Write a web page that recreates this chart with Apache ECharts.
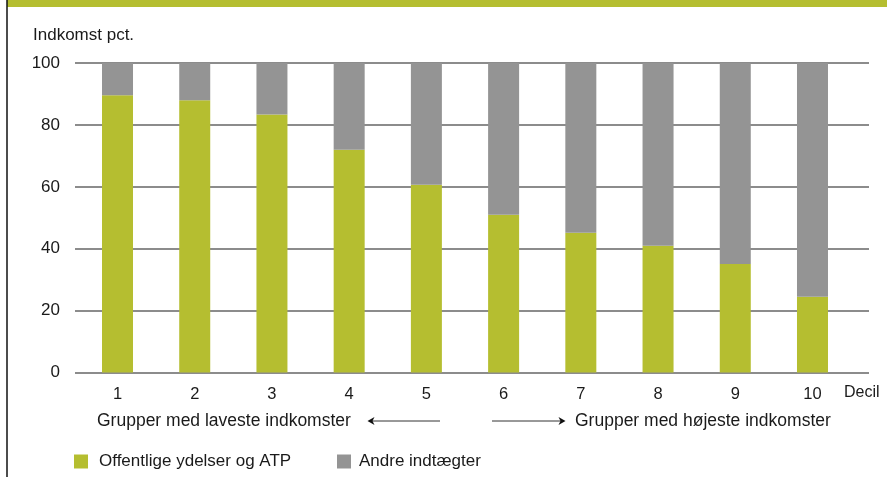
<!DOCTYPE html>
<html>
<head>
<meta charset="utf-8">
<script src="https://cdn.jsdelivr.net/npm/echarts@6/dist/echarts.min.js"></script>
<style>
html,body{margin:0;padding:0;background:#fff;}
#c{width:887px;height:477px;}
</style>
</head>
<body>
<div id="c"></div>
<script>
var deciles = ['1', '2', '3', '4', '5', '6', '7', '8', '9', '10'];
var offentlige = [89.6, 88.0, 83.4, 72.0, 60.7, 51.0, 45.2, 41.0, 35.1, 24.5];
var andre = [10.4, 12.0, 16.6, 28.0, 39.3, 49.0, 54.8, 59.0, 64.9, 75.5];
var yTicks = [0, 20, 40, 60, 80, 100];

var FONT = 'Liberation Sans, Arial, sans-serif';
var GREEN = '#b5be30';
var GRAY = '#949494';
var TXT = '#1a1a1a';

var chart = echarts.init(document.getElementById('c'), null, {renderer: 'canvas'});

var option = {
  animation: false,
  backgroundColor: '#fff',
  textStyle: {fontFamily: FONT},
  grid: [
    {left: 75, right: 18, top: 63, bottom: 104.4, containLabel: false},
    {left: 78.9, right: 35.9, top: 63, bottom: 104.4, containLabel: false}
  ],
  xAxis: [
    {
      gridIndex: 0, type: 'value', min: 0, max: 1, show: false
    },
    {
      gridIndex: 1, type: 'category', data: deciles,
      axisLine: {show: false},
      axisTick: {show: false},
      splitLine: {show: false},
      axisLabel: {fontSize: 16.5, fontFamily: FONT, color: TXT, margin: 13}
    }
  ],
  yAxis: [
    {
      gridIndex: 0, type: 'value',
      min: 0, max: 100, interval: 20,
      axisLine: {show: false},
      axisTick: {show: false},
      splitLine: {show: true, lineStyle: {color: '#666', width: 1.6}},
      axisLabel: {fontSize: 17, fontFamily: FONT, color: TXT, margin: 15}
    },
    {
      gridIndex: 1, type: 'value', min: 0, max: 100, interval: 20, show: false,
      splitLine: {show: false}
    }
  ],
  legend: [
    {
      left: 74, top: 453, padding: 0, itemWidth: 14, itemHeight: 14, icon: 'rect',
      data: ['Offentlige ydelser og ATP'],
      textStyle: {fontSize: 17, fontFamily: FONT, color: TXT, padding: [0, 0, 0, 6]},
      selectedMode: false
    },
    {
      left: 337, top: 453, padding: 0, itemWidth: 14, itemHeight: 14, icon: 'rect',
      data: ['Andre indtægter'],
      textStyle: {fontSize: 17, fontFamily: FONT, color: TXT, padding: [0, 0, 0, 3]},
      selectedMode: false
    }
  ],
  series: [
    {
      name: 'Offentlige ydelser og ATP',
      type: 'bar', stack: 'total', barWidth: 31,
      xAxisIndex: 1, yAxisIndex: 1,
      itemStyle: {color: GREEN},
      data: offentlige
    },
    {
      name: 'Andre indtægter',
      type: 'bar', stack: 'total', barWidth: 31,
      xAxisIndex: 1, yAxisIndex: 1,
      itemStyle: {color: GRAY},
      data: andre
    }
  ],
  graphic: [
    {type: 'rect', shape: {x: 7, y: 0, width: 880, height: 7}, style: {fill: GREEN}, silent: true},
    {type: 'line', shape: {x1: 7, y1: 0, x2: 7, y2: 477}, style: {stroke: '#111', lineWidth: 1.5}, silent: true},
    {type: 'text', left: 33, top: 27, style: {text: 'Indkomst pct.', font: '17px ' + FONT, fill: TXT}},
    {type: 'text', left: 844, top: 385, style: {text: 'Decil', font: '16px ' + FONT, fill: TXT}},
    {type: 'text', left: 97, top: 412, style: {text: 'Grupper med laveste indkomster', font: '17.5px ' + FONT, fill: TXT}},
    {type: 'text', left: 575, top: 412, style: {text: 'Grupper med højeste indkomster', font: '17.5px ' + FONT, fill: TXT}},
    {type: 'line', shape: {x1: 371, y1: 421, x2: 440, y2: 421}, style: {stroke: '#333', lineWidth: 1}, silent: true},
    {type: 'polygon', shape: {points: [[367.5, 421], [374.5, 417], [372.5, 421], [374.5, 425]]}, style: {fill: '#111'}, silent: true},
    {type: 'line', shape: {x1: 492, y1: 421, x2: 562, y2: 421}, style: {stroke: '#333', lineWidth: 1}, silent: true},
    {type: 'polygon', shape: {points: [[565.5, 421], [558.5, 417], [560.5, 421], [558.5, 425]]}, style: {fill: '#111'}, silent: true}
  ]
};
chart.setOption(option);
</script>
</body>
</html>
